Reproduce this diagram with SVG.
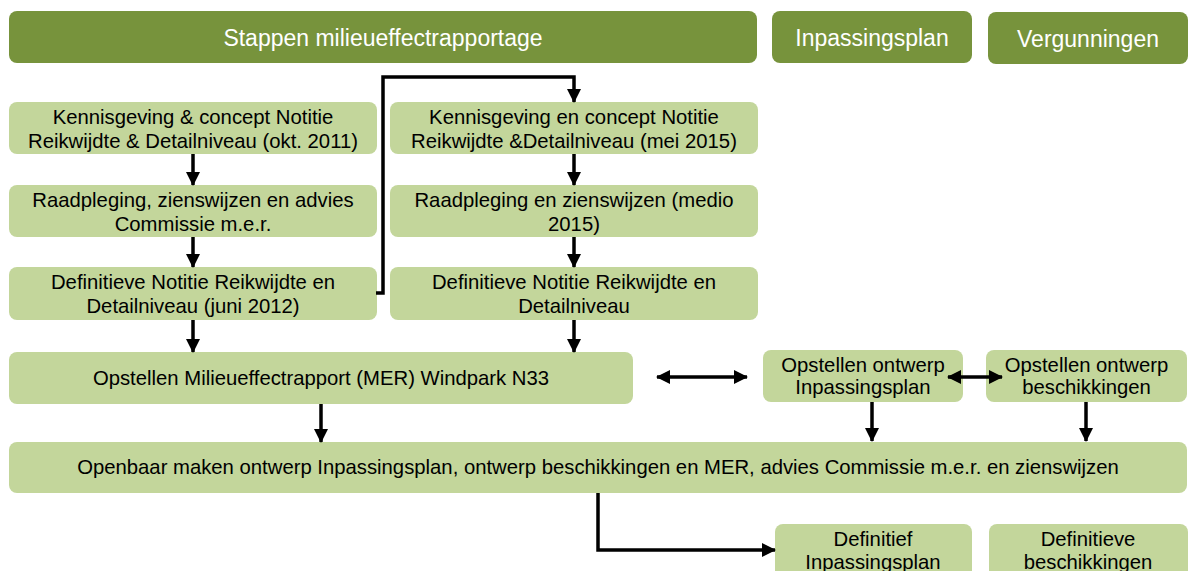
<svg xmlns="http://www.w3.org/2000/svg" width="1192" height="571" viewBox="0 0 1192 571">
<defs>
<style>
.hdr{fill:#77933C}
.box{fill:#C3D69B}
.ht{font-family:"Liberation Sans",Arial,sans-serif;font-size:23px;fill:#FFFFFF;text-anchor:middle}
.t{font-family:"Liberation Sans",Arial,sans-serif;font-size:20.3px;fill:#000000;text-anchor:middle}
.c{fill:none;stroke:#000000;stroke-width:3.5}
</style>
<marker id="ah" markerUnits="userSpaceOnUse" markerWidth="14" markerHeight="14" refX="13" refY="7" orient="auto-start-reverse" viewBox="0 0 14 14">
<path d="M0,0 L14,7 L0,14 z" fill="#000000"/>
</marker>
</defs>
<rect width="1192" height="571" fill="#FFFFFF"/>

<g id="hdr-mer"><rect class="hdr" x="9" y="11" width="748" height="52" rx="8"/><text class="ht" x="383" y="46">Stappen milieueffectrapportage</text></g>
<g id="hdr-inpassing"><rect class="hdr" x="772" y="11" width="200" height="52" rx="8"/><text class="ht" x="872" y="46">Inpassingsplan</text></g>
<g id="hdr-vergunningen"><rect class="hdr" x="988" y="12" width="200" height="52" rx="8"/><text class="ht" x="1088" y="47">Vergunningen</text></g>

<g id="l1"><rect class="box" x="9" y="102" width="368" height="52" rx="8"/><text class="t" x="193" y="123.5">Kennisgeving &amp; concept Notitie</text><text class="t" x="193" y="147.5">Reikwijdte &amp; Detailniveau (okt. 2011)</text></g>
<g id="l2"><rect class="box" x="9" y="185" width="368" height="52" rx="8"/><text class="t" x="193" y="206.5">Raadpleging, zienswijzen en advies</text><text class="t" x="193" y="230.5">Commissie m.e.r.</text></g>
<g id="l3"><rect class="box" x="9" y="267" width="368" height="53" rx="8"/><text class="t" x="193" y="288.5">Definitieve Notitie Reikwijdte en</text><text class="t" x="193" y="312.5">Detailniveau (juni 2012)</text></g>

<g id="r1"><rect class="box" x="390" y="102" width="368" height="52" rx="8"/><text class="t" x="574" y="123.5">Kennisgeving en concept Notitie</text><text class="t" x="574" y="147.5">Reikwijdte &amp;Detailniveau (mei 2015)</text></g>
<g id="r2"><rect class="box" x="390" y="185" width="368" height="52" rx="8"/><text class="t" x="574" y="206.5">Raadpleging en zienswijzen (medio</text><text class="t" x="574" y="230.5">2015)</text></g>
<g id="r3"><rect class="box" x="390" y="267" width="368" height="53" rx="8"/><text class="t" x="574" y="288.5">Definitieve Notitie Reikwijdte en</text><text class="t" x="574" y="312.5">Detailniveau</text></g>

<g id="mer"><rect class="box" x="9" y="352" width="624" height="52" rx="8"/><text class="t" x="321" y="385">Opstellen Milieueffectrapport (MER) Windpark N33</text></g>
<g id="ontwerp-inpassing"><rect class="box" x="763" y="350" width="200" height="52" rx="8"/><text class="t" x="863" y="372">Opstellen ontwerp</text><text class="t" x="863" y="394">Inpassingsplan</text></g>
<g id="ontwerp-beschikkingen"><rect class="box" x="986" y="350" width="201" height="52" rx="8"/><text class="t" x="1086.5" y="372">Opstellen ontwerp</text><text class="t" x="1086.5" y="394">beschikkingen</text></g>

<g id="openbaar"><rect class="box" x="9" y="442" width="1178" height="51" rx="8"/><text class="t" x="598" y="474">Openbaar maken ontwerp Inpassingsplan, ontwerp beschikkingen en MER, advies Commissie m.e.r. en zienswijzen</text></g>

<g id="def-inpassing"><rect class="box" x="775" y="524" width="197" height="60" rx="8"/><text class="t" x="873" y="546">Definitief</text><text class="t" x="873" y="569">Inpassingsplan</text></g>
<g id="def-beschikkingen"><rect class="box" x="989" y="524" width="199" height="60" rx="8"/><text class="t" x="1088" y="546">Definitieve</text><text class="t" x="1088" y="569">beschikkingen</text></g>

<g id="connectors">
<path class="c" marker-end="url(#ah)" d="M193,154 V185"/>
<path class="c" marker-end="url(#ah)" d="M193,237 V267"/>
<path class="c" marker-end="url(#ah)" d="M193,320 V352"/>
<path class="c" marker-end="url(#ah)" d="M574,154 V185"/>
<path class="c" marker-end="url(#ah)" d="M574,237 V267"/>
<path class="c" marker-end="url(#ah)" d="M574,320 V352"/>
<path class="c" marker-end="url(#ah)" d="M376,293 H383 V77 H574 V102"/>
<path class="c" marker-end="url(#ah)" d="M321,404 V442"/>
<path class="c" marker-start="url(#ah)" marker-end="url(#ah)" d="M657,377 H747"/>
<path class="c" marker-start="url(#ah)" marker-end="url(#ah)" d="M948,377 H1002"/>
<path class="c" marker-end="url(#ah)" d="M872,402 V441"/>
<path class="c" marker-end="url(#ah)" d="M1086,402 V441"/>
<path class="c" marker-end="url(#ah)" d="M598,493 V550 H775"/>
</g>
</svg>
